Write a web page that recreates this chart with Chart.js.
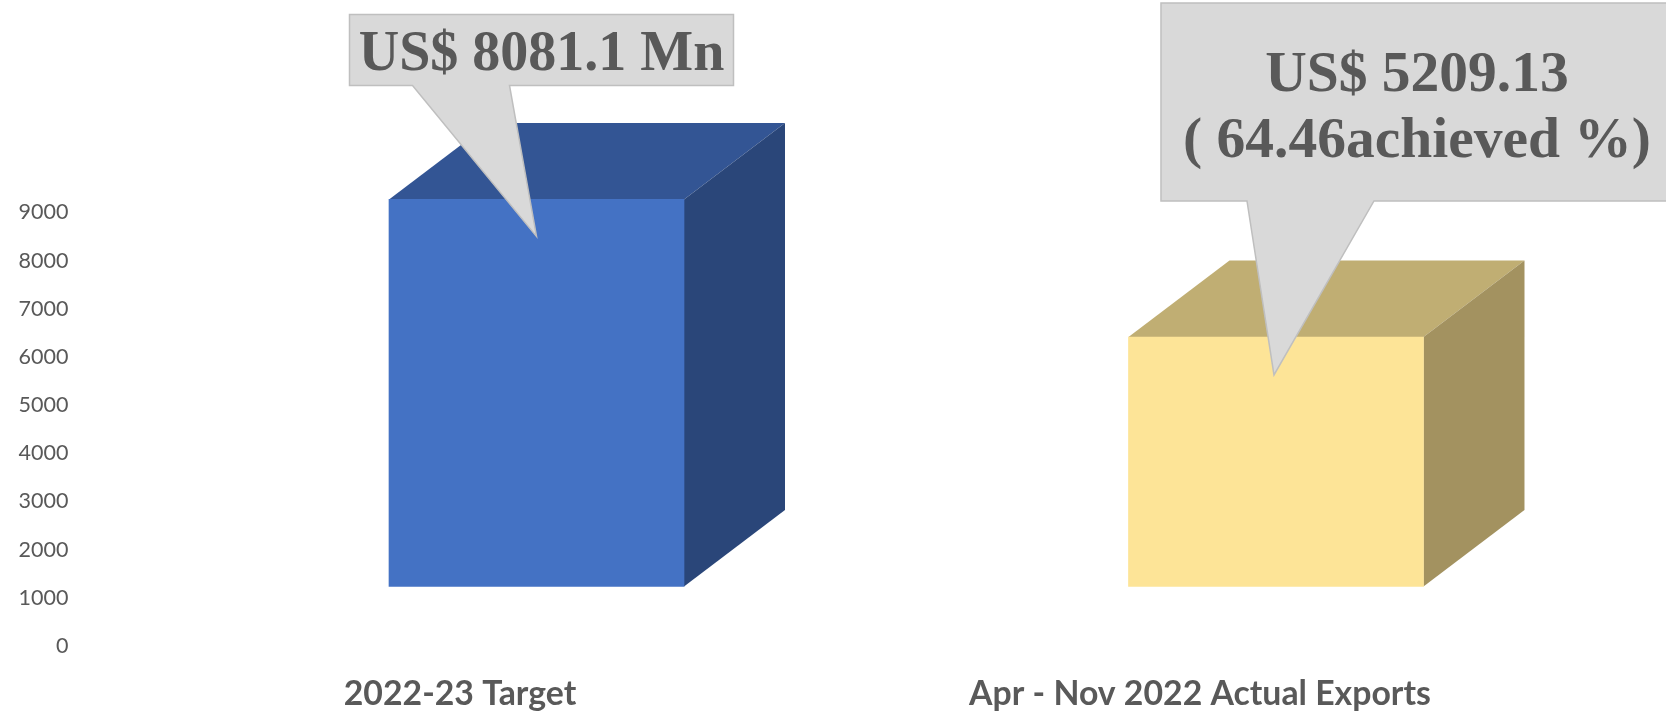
<!DOCTYPE html>
<html>
<head>
<meta charset="utf-8">
<title>Exports target vs actual</title>
<script src="https://cdn.jsdelivr.net/npm/chart.js@4"></script>
<style>
    html, body { margin: 0; padding: 0; background: #fff; overflow: hidden; }
    canvas { display: block; }
</style>
</head>
<body>
<canvas id="exportsChart" width="1666" height="714"></canvas>
<script>
// Data
const categories = ['2022-23 Target', 'Apr - Nov 2022 Actual Exports'];
const exportValues = [8081.1, 5209.13];
const calloutLines = [['US$ 8081.1 Mn'], ['US$ 5209.13', '( 64.46achieved %)']];

// Colours for each box: front, top, side
const frontColors = ['#4472C4', '#FDE497'];
const topColors = ['#335594', '#C0AE73'];
const sideColors = ['#2A4679', '#A39260'];
const textColor = '#595959';

// The boxes sit on the floor of a fake 3D plot, so they are shifted from the axes
const depthX = 101;
const depthY = 76.5;
const barScaleMin = -1242;
const barScaleMax = 7808;

// Callout boxes, relative to the top centre of each bar
const callouts = [
    { left: -187, right: 197, top: -185, bottom: -114, tailA: -124, tailB: -27, tipX: 0, tipY: 37, textX: 5, fontSize: 56, baselines: [-129] },
    { left: -115, right: 400, top: -334, bottom: -136, tailA: -29, tailB: 98, tipX: -2, tipY: 38, textX: 141, fontSize: 57.5, baselines: [-245.5, -180] }
];

// 3D faces behind the front of each bar
const boxFaces = {
    id: 'boxFaces',
    beforeDatasetsDraw(chart) {
        const ctx = chart.ctx;
        chart.getDatasetMeta(0).data.forEach((bar, i) => {
            const half = bar.width / 2;
            const l = bar.x - half, r = bar.x + half;

            ctx.fillStyle = topColors[i];
            ctx.beginPath();
            ctx.moveTo(l, bar.y);
            ctx.lineTo(l + depthX, bar.y - depthY);
            ctx.lineTo(r + depthX, bar.y - depthY);
            ctx.lineTo(r, bar.y);
            ctx.closePath();
            ctx.fill();

            ctx.fillStyle = sideColors[i];
            ctx.beginPath();
            ctx.moveTo(r, bar.y);
            ctx.lineTo(r + depthX, bar.y - depthY);
            ctx.lineTo(r + depthX, bar.base - depthY);
            ctx.lineTo(r, bar.base);
            ctx.closePath();
            ctx.fill();
        });
    }
};

// Grey speech bubbles with the values
const calloutBoxes = {
    id: 'calloutBoxes',
    afterDatasetsDraw(chart) {
        const ctx = chart.ctx;
        chart.getDatasetMeta(0).data.forEach((bar, i) => {
            const c = callouts[i];
            const x = bar.x, y = bar.y;

            ctx.beginPath();
            ctx.moveTo(x + c.left, y + c.top);
            ctx.lineTo(x + c.right, y + c.top);
            ctx.lineTo(x + c.right, y + c.bottom);
            ctx.lineTo(x + c.tailB, y + c.bottom);
            ctx.lineTo(x + c.tipX, y + c.tipY);
            ctx.lineTo(x + c.tailA, y + c.bottom);
            ctx.lineTo(x + c.left, y + c.bottom);
            ctx.closePath();
            ctx.fillStyle = '#D9D9D9';
            ctx.fill();
            ctx.lineWidth = 1.5;
            ctx.strokeStyle = '#BFBFBF';
            ctx.stroke();

            ctx.fillStyle = textColor;
            ctx.font = 'bold ' + c.fontSize + 'px "Liberation Serif"';
            ctx.textAlign = 'center';
            ctx.textBaseline = 'alphabetic';
            calloutLines[i].forEach((line, n) => {
                ctx.fillText(line, x + c.textX, y + c.baselines[n]);
            });
        });
    }
};

const ctx = document.getElementById('exportsChart').getContext('2d');
const exportsChart = new Chart(ctx, {
    type: 'bar',
    data: {
        labels: categories,
        datasets: [{
            data: exportValues.map((v, i) => ({ x: i, y: v })),
            backgroundColor: frontColors,
            borderWidth: 0,
            barThickness: 295,
            xAxisID: 'xBar',
            yAxisID: 'yBar',
            clip: false
        }]
    },
    options: {
        responsive: false,
        animation: false,
        layout: { padding: { top: 212.5, right: 96 } },
        plugins: {
            legend: { display: false },
            tooltip: { enabled: false }
        },
        scales: {
            x: {
                type: 'category',
                position: 'bottom',
                grid: { display: false },
                border: { display: false },
                ticks: {
                    color: textColor,
                    font: { family: 'Lato', size: 33.8, weight: 'bold' },
                    padding: 20,
                    maxRotation: 0
                },
                afterFit(axis) { axis.height = 68; }
            },
            y: {
                type: 'linear',
                position: 'left',
                min: 0,
                max: 9000,
                grid: { display: false },
                border: { display: false },
                ticks: {
                    stepSize: 1000,
                    color: textColor,
                    font: { family: 'Lato', size: 21.5 },
                    padding: 13.5,
                    callback: value => String(value)
                },
                afterFit(axis) { axis.width = 90; }
            },
            // hidden scales the boxes are drawn on
            xBar: {
                axis: 'x',
                type: 'linear',
                display: false,
                offset: false,
                min: -0.6038,
                max: 1.3976
            },
            yBar: {
                axis: 'y',
                type: 'linear',
                display: false,
                min: barScaleMin,
                max: barScaleMax
            }
        }
    },
    plugins: [boxFaces, calloutBoxes]
});
</script>
</body>
</html>
